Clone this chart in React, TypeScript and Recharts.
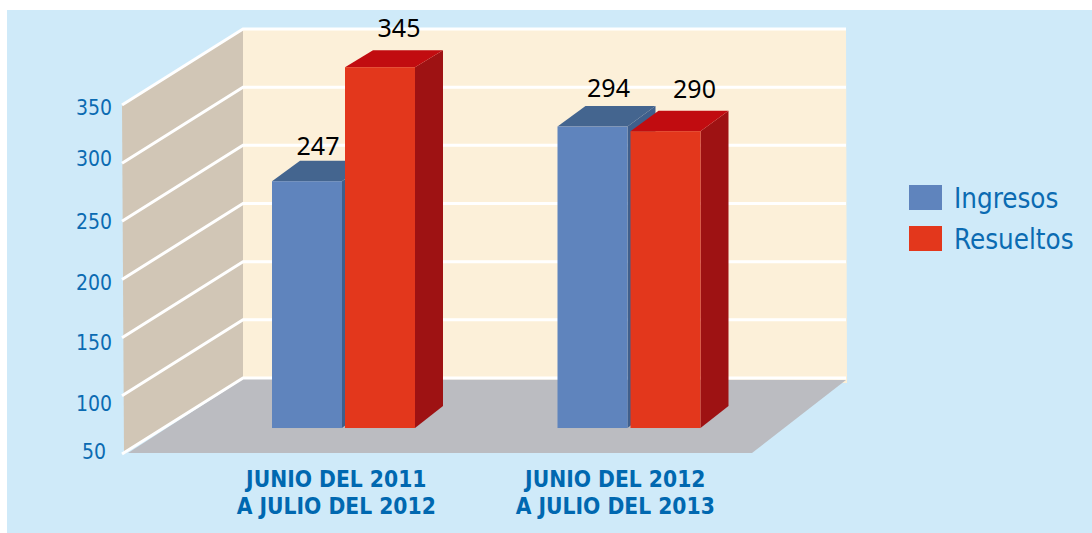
import React from 'react';
import { ComposedChart, Bar, Line, XAxis, YAxis, CartesianGrid, Legend, LabelList } from 'recharts';

// ---- data ----
const categories = ['JUNIO DEL 2011\nA JULIO DEL 2012', 'JUNIO DEL 2012\nA JULIO DEL 2013'];
const ingresos = [247, 294];
const resueltos = [345, 290];
const yTicks = [50, 100, 150, 200, 250, 300, 350];
const barBase = 34.8;

const rows = categories.map((category, i) => ({
  category,
  ingresos: ingresos[i],
  resueltos: resueltos[i],
}));

// ---- layout ----
const W = 1092;
const H = 533;
const PLOT = { left: 124, right: 846, top: 28, bottom: 454 };
const DEPTH_X = 120;
const DEPTH_Y = 76;
const BAR_DEPTH_X = 28;
const AXIS_FONT = '"DejaVu Sans Condensed", "DejaVu Sans", sans-serif';
const BLUE_TEXT = '#0B6BB2';

const tickNudge: Record<number, [number, number]> = {
  50: [-6, -2], 100: [0, 8], 150: [0, 5], 200: [0, 3], 250: [0, 1], 300: [0, -4], 350: [0, 3],
};
const categoryNudge = [-7.5, -14];
const labelNudgeIng: [number, number][] = [[11, -36], [16, -40]];
const labelNudgeRes: [number, number][] = [[19, -40], [29, -43]];

const COLORS = {
  page: '#CFEAF9',
  back: '#FCF0D9',
  side: '#D1C6B6',
  floor: '#BBBCC1',
  ingresos: { front: '#5F84BD', top: '#44658F', side: '#3F5F8C' },
  resueltos: { front: '#E3371C', top: '#C10C10', side: '#9E1213' },
};

const Walls = () => (
  <svg width={W} height={H} style={{ position: 'absolute', left: 0, top: 0 }}>
    <polygon points="243,28 846,28 847,383 243,383" fill={COLORS.back} />
    <polygon points="122,104 243,28 243,378 124,454" fill={COLORS.side} />
    <polygon points="128,453 243,379 846,380 752,453" fill={COLORS.floor} />
  </svg>
);

const GridLine = (p: any) => {
  const y = p.y1;
  if (y <= PLOT.top + 1) return <g />;
  const back = y - DEPTH_Y;
  return (
    <polyline
      points={`122,${y} ${p.x1 + DEPTH_X - 1},${back} ${p.x2},${back}`}
      fill="none"
      stroke="#FFFFFF"
      strokeWidth={3}
    />
  );
};

const Bar3D = (colors: { front: string; top: string; side: string }) => (p: any) => {
  const { x, y, width, height } = p;
  const bottom = y + height;
  const right = x + width;
  const dyTop = y < 100 ? 17 : 20.5;
  const dyBottom = 22;
  return (
    <g>
      <polygon
        points={`${right},${y} ${right + BAR_DEPTH_X},${y - dyTop} ${right + BAR_DEPTH_X},${bottom - dyBottom} ${right},${bottom}`}
        fill={colors.side}
      />
      <polygon
        points={`${x},${y} ${x + BAR_DEPTH_X},${y - dyTop} ${right + BAR_DEPTH_X},${y - dyTop} ${right},${y}`}
        fill={colors.top}
      />
      <rect x={x} y={y} width={width} height={height} fill={colors.front} />
    </g>
  );
};

const ValueLabel = (nudge: [number, number][]) => (p: any) => {
  const { x, y, width, value, index } = p;
  const [dx, dy] = nudge[index];
  return (
    <text
      x={x + width / 2 + dx}
      y={y + dy}
      textAnchor="middle"
      dominantBaseline="central"
      fill="#000000"
      style={{ fontFamily: '"Noto Sans", sans-serif', fontSize: 25 }}
    >
      {value}
    </text>
  );
};

const YTick = (p: any) => {
  const v = p.payload.value;
  const [dx, dy] = tickNudge[v] ?? [0, 0];
  return (
    <text
      x={p.x + dx}
      y={p.y + dy}
      textAnchor="end"
      dominantBaseline="central"
      fill={BLUE_TEXT}
      style={{ fontFamily: AXIS_FONT, fontSize: 21 }}
    >
      {v}
    </text>
  );
};

const XTick = (p: any) => {
  const lines = String(p.payload.value).split('\n');
  const cx = p.x + categoryNudge[p.index];
  return (
    <g style={{ fontFamily: AXIS_FONT, fontSize: 22.6, fontWeight: 700 }} fill="#0068B0" textAnchor="middle">
      <text x={cx} y={487}>{lines[0]}</text>
      <text x={cx} y={514}>{lines[1]}</text>
    </g>
  );
};

const LegendBox = (p: any) => (
  <div style={{ fontFamily: AXIS_FONT, fontSize: 27.5, color: BLUE_TEXT }}>
    {p.payload.filter((e: any) => e.type !== 'none').map((e: any, i: number) => (
      <div key={e.value} style={{ position: 'absolute', left: 0, top: i * 41, height: 25, width: 180 }}>
        <div style={{ position: 'absolute', left: 0, top: 0, width: 33, height: 25, background: e.color }} />
        <div style={{ position: 'absolute', left: 45, top: -3, lineHeight: '32px', whiteSpace: 'nowrap' }}>{e.value}</div>
      </div>
    ))}
  </div>
);

export default function App() {
  return (
    <div style={{ position: 'absolute', left: 0, top: 0, width: W, height: H, background: '#FFFFFF', overflow: 'hidden' }}>
      <div style={{ position: 'absolute', left: 7, top: 10, width: W - 7, height: H - 10, background: COLORS.page }} />
      <Walls />
      <div style={{ position: 'absolute', left: 0, top: 0 }}>
        <ComposedChart
          width={W}
          height={H}
          data={rows}
          barSize={70}
          barGap={3}
          margin={{ top: PLOT.top, right: W - PLOT.right, bottom: 0, left: 0 }}
        >
          <CartesianGrid yAxisId="axis" vertical={false} horizontal={GridLine as any} />
          <XAxis
            dataKey="category"
            height={H - PLOT.bottom}
            padding={{ left: 77, right: 74 }}
            axisLine={false}
            tickLine={false}
            interval={0}
            tick={XTick as any}
          />
          <YAxis
            yAxisId="axis"
            width={PLOT.left}
            domain={[50, 416.2]}
            ticks={yTicks}
            axisLine={false}
            tickLine={false}
            tickMargin={6}
            tick={YTick as any}
          />
          <YAxis yAxisId="bars" hide domain={[12.46, 378.7]} />
          <Line
            yAxisId="axis"
            dataKey="resueltos"
            stroke="none"
            dot={false}
            activeDot={false}
            legendType="none"
            isAnimationActive={false}
          />
          <Bar
            yAxisId="bars"
            name="Ingresos"
            dataKey={(d: any) => [barBase, d.ingresos]}
            fill={COLORS.ingresos.front}
            shape={Bar3D(COLORS.ingresos) as any}
            isAnimationActive={false}
          >
            <LabelList dataKey="ingresos" content={ValueLabel(labelNudgeIng) as any} />
          </Bar>
          <Bar
            yAxisId="bars"
            name="Resueltos"
            dataKey={(d: any) => [barBase, d.resueltos]}
            fill={COLORS.resueltos.front}
            shape={Bar3D(COLORS.resueltos) as any}
            isAnimationActive={false}
          >
            <LabelList dataKey="resueltos" content={ValueLabel(labelNudgeRes) as any} />
          </Bar>
          <Legend
            layout="vertical"
            align="center"
            verticalAlign="middle"
            wrapperStyle={{ position: 'absolute', left: 909, top: 185, width: 180, height: 70 }}
            content={LegendBox as any}
          />
        </ComposedChart>
      </div>
    </div>
  );
}
